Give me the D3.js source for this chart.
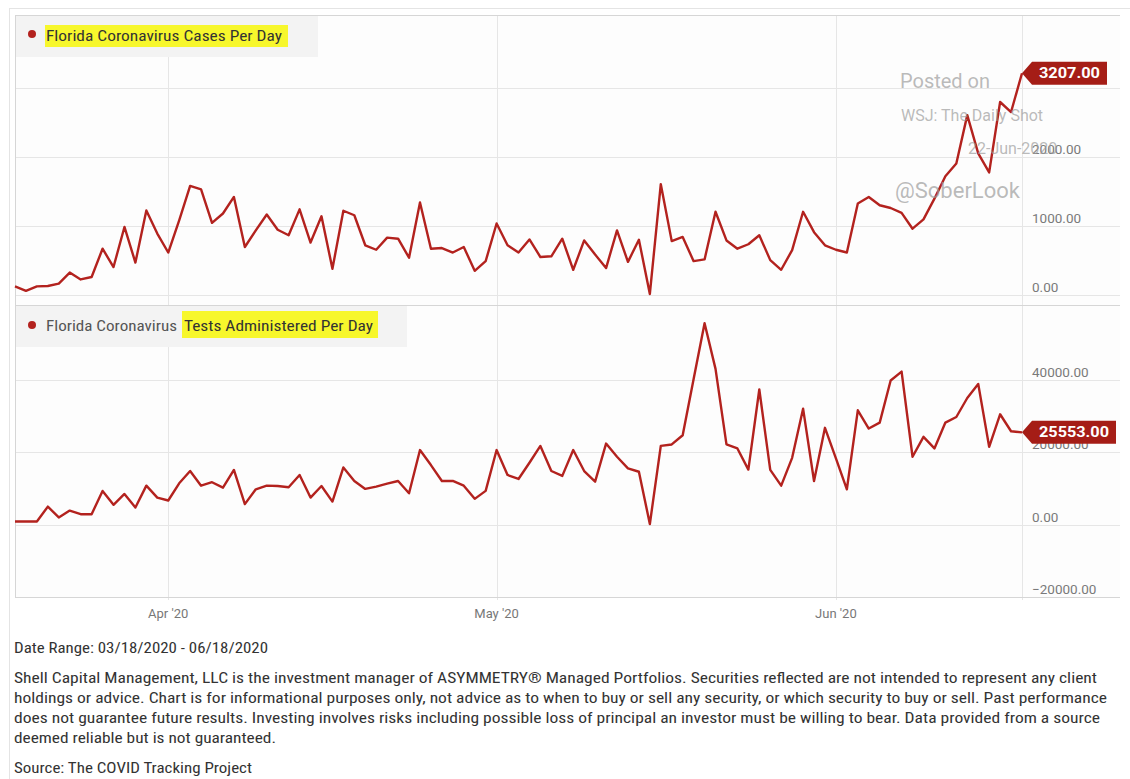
<!DOCTYPE html>
<html>
<head>
<meta charset="utf-8">
<script src="https://cdn.jsdelivr.net/npm/d3@7"></script>
<style>
  html, body { margin: 0; padding: 0; background: #fff; }
  svg { display: block; }
  text { font-family: Roboto, "Liberation Sans", sans-serif; }
  .narrow { font-family: "Liberation Sans Narrow", "Roboto Condensed", Roboto, sans-serif; }
</style>
</head>
<body>
<svg id="chart" width="1130" height="779"></svg>
<script>
// date range of the chart (one value per day)
const startDay = new Date(2020, 2, 18);
const endDay = new Date(2020, 5, 18);

// Florida new cases per day
const casesPerDay = [
  120, 55, 120, 125, 160, 320, 220, 255, 665, 400, 980, 465, 1220, 885, 610, 1075, 1575, 1525, 1040, 1175,
  1415, 690, 930, 1160, 940, 860, 1235, 755, 1135, 375, 1215, 1150, 715, 650,
  825, 810, 535, 1335, 665, 675, 610, 690, 345, 485, 1030, 715, 610, 800, 545, 555, 810, 360, 785, 580,
  385, 930, 475, 795, 10, 1600, 775, 835, 485, 510, 1200, 785, 665, 730,
  860, 500, 360, 645, 1200, 905, 715, 650, 610, 1320, 1415, 1295, 1255, 1185, 955, 1090, 1390, 1715,
  1900, 2600, 2045, 1770, 2790, 2645, 3207
];

// Florida tests administered per day
const testsPerDay = [
  900, 900, 900, 5000, 2000, 3900, 2900, 2900, 9350, 5500, 8500, 4750, 10800, 7500, 6700, 11450, 14850,
  10800, 11750, 10250, 15150, 5700, 9800, 10800, 10700, 10350, 13750, 7500, 10700, 6400, 15850, 12100,
  9900, 10550,
  11350, 12100, 8700, 20650, 16500, 12100, 12100, 10800, 7150, 9350, 20650, 13750, 12650, 17150, 21800,
  14850, 13500, 20650, 14850, 11900, 22450, 18800, 15600, 14650, 200, 21800, 22200, 24750, 40300, 55750,
  43100, 22200, 21100, 15250,
  37400, 15150, 10800, 18500, 32100, 12100, 26800, 18350, 9800, 31650, 26600, 28250, 39900, 42350, 18800,
  24300, 21100, 28250, 29800, 35050, 38950, 21550, 30550, 25850, 25553
];

const caseTicks = [0, 1000, 2000, 3000];
const testTicks = [-20000, 0, 20000, 40000];
const monthTicks = [new Date(2020, 3, 1), new Date(2020, 4, 1), new Date(2020, 5, 1)];

const footerLines = [
  { text: "Date Range: 03/18/2020 - 06/18/2020", y: 653, w: 254 },
  { text: "Shell Capital Management, LLC is the investment manager of ASYMMETRY\u00ae Managed Portfolios. Securities reflected are not intended to represent any client", y: 683, w: 1083 },
  { text: "holdings or advice. Chart is for informational purposes only, not advice as to when to buy or sell any security, or which security to buy or sell. Past performance", y: 703, w: 1093 },
  { text: "does not guarantee future results. Investing involves risks including possible loss of principal an investor must be willing to bear. Data provided from a source", y: 723, w: 1086 },
  { text: "deemed reliable but is not guaranteed.", y: 743, w: 262 },
  { text: "Source: The COVID Tracking Project", y: 773, w: 238 }
];

const LINE_COLOR = "#b3221e";
const BADGE_COLOR = "#a51d16";
const GRID_COLOR = "#e6e6e6";
const FRAME_COLOR = "#d6d6d6";

const svg = d3.select("#chart");
svg.append("rect").attr("width", 1130).attr("height", 779).attr("fill", "#fff");

const days = d3.timeDay.range(startDay, d3.timeDay.offset(endDay, 1));

const x = d3.scaleTime().domain([startDay, endDay]).range([15, 1022]);
const yCases = d3.scaleLinear().domain([-150, 4050]).range([305, 15]);
const yTests = d3.scaleLinear().domain([-20000, 60500]).range([597, 306]);

const fmt = d3.format(".2f");

// outer frame of the screenshot
svg.append("line").attr("x1", 9.5).attr("x2", 9.5).attr("y1", 8).attr("y2", 779)
  .attr("stroke", "#e4e4e4");
svg.append("line").attr("x1", 9.5).attr("x2", 1130).attr("y1", 8.5).attr("y2", 8.5)
  .attr("stroke", "#e4e4e4");

// plot background
svg.append("rect").attr("x", 15).attr("y", 15).attr("width", 1105).attr("height", 582)
  .attr("fill", "#fdfdfd");

// vertical month gridlines + right edge of plot
svg.append("g").selectAll("line")
  .data(monthTicks)
  .join("line")
  .attr("x1", d => Math.round(x(d)) + 0.5)
  .attr("x2", d => Math.round(x(d)) + 0.5)
  .attr("y1", 15).attr("y2", 600)
  .attr("stroke", GRID_COLOR);
svg.append("line").attr("x1", 1022.5).attr("x2", 1022.5).attr("y1", 15).attr("y2", 600)
  .attr("stroke", GRID_COLOR);

function drawPanel(yScale, ticks, hideLabel) {
  const g = svg.append("g");
  g.selectAll("line.grid")
    .data(ticks.filter(t => yScale(t) > yScale.range()[1] && yScale(t) < yScale.range()[0] - 1))
    .join("line")
    .attr("class", "grid")
    .attr("x1", 15).attr("x2", 1120)
    .attr("y1", d => Math.round(yScale(d)) + 0.5)
    .attr("y2", d => Math.round(yScale(d)) + 0.5)
    .attr("stroke", GRID_COLOR);
  g.selectAll("text.tick")
    .data(ticks.filter(t => !hideLabel.includes(t)))
    .join("text")
    .attr("class", "tick")
    .attr("x", 1032)
    .attr("y", d => yScale(d) - 3)
    .attr("font-size", 13.5)
    .attr("fill", "#7a7a7a")
    .text(d => fmt(d));
  return g;
}

drawPanel(yCases, caseTicks, [3000]);
drawPanel(yTests, testTicks, []);

// panel frame lines
[15.5, 305.5, 597.5].forEach(yy => {
  svg.append("line").attr("x1", 15).attr("x2", 1120).attr("y1", yy).attr("y2", yy)
    .attr("stroke", FRAME_COLOR);
});
svg.append("line").attr("x1", 15.5).attr("x2", 15.5).attr("y1", 15).attr("y2", 598)
  .attr("stroke", FRAME_COLOR);

// x axis labels
svg.append("g").selectAll("text")
  .data(monthTicks)
  .join("text")
  .attr("x", d => x(d))
  .attr("y", 618)
  .attr("text-anchor", "middle")
  .attr("font-size", 13)
  .attr("fill", "#777")
  .text(d => d3.timeFormat("%b '%y")(d));

// legends
function drawLegend(y0, h, w, dotY, parts) {
  const g = svg.append("g");
  g.append("rect").attr("x", 16).attr("y", y0).attr("width", w).attr("height", h)
    .attr("fill", "#f3f3f3");
  g.append("circle").attr("cx", 32).attr("cy", dotY).attr("r", 4).attr("fill", LINE_COLOR);
  parts.forEach(p => {
    if (p.hl) {
      g.append("rect").attr("x", p.hl[0]).attr("y", p.hl[1]).attr("width", p.hl[2])
        .attr("height", p.hl[3]).attr("fill", "#f7f72c");
    }
    g.append("text").attr("class", "narrow")
      .attr("x", p.x).attr("y", p.y)
      .attr("font-size", 15)
      .attr("fill", p.color)
      .attr("textLength", p.w).attr("lengthAdjust", "spacingAndGlyphs")
      .text(p.text);
  });
}

drawLegend(16, 41, 302, 34, [
  { text: "Florida Coronavirus Cases Per Day", x: 46, y: 41, w: 236, color: "#333",
    hl: [45, 25, 243, 22] }
]);
drawLegend(306, 41, 391, 325, [
  { text: "Florida Coronavirus", x: 46, y: 331, w: 131, color: "#555" },
  { text: "Tests Administered Per Day", x: 184, y: 331, w: 189, color: "#333",
    hl: [182, 311, 196, 27] }
]);

// series lines
const lineCases = d3.line().x((d, i) => x(days[i])).y(d => yCases(d));
const lineTests = d3.line().x((d, i) => x(days[i])).y(d => yTests(d));

svg.append("path").datum(casesPerDay)
  .attr("d", lineCases)
  .attr("fill", "none").attr("stroke", LINE_COLOR)
  .attr("stroke-width", 2.4).attr("stroke-linejoin", "round");
svg.append("path").datum(testsPerDay)
  .attr("d", lineTests)
  .attr("fill", "none").attr("stroke", LINE_COLOR)
  .attr("stroke-width", 2.4).attr("stroke-linejoin", "round");

// watermark
const wm = svg.append("g").attr("fill", "#9c9c9c").attr("fill-opacity", 0.7)
  .style("font-family", "'Liberation Sans', Arial, sans-serif");
wm.append("text").attr("x", 900).attr("y", 88).attr("font-size", 20).text("Posted on");
wm.append("text").attr("x", 901).attr("y", 121).attr("font-size", 16).text("WSJ: The Daily Shot");
wm.append("text").attr("x", 968).attr("y", 154).attr("font-size", 16).text("22-Jun-2020");
wm.append("text").attr("x", 895).attr("y", 198).attr("font-size", 22).text("@SoberLook");

// last value badges
function drawBadge(value, yScale, boxW, textW) {
  const tipX = x(endDay);
  const tipY = yScale(value);
  const h = 23, notch = 10;
  const g = svg.append("g");
  g.append("path")
    .attr("d", `M${tipX},${tipY} L${tipX + notch},${tipY - h / 2} L${tipX + notch + boxW},${tipY - h / 2}` +
      ` L${tipX + notch + boxW},${tipY + h / 2} L${tipX + notch},${tipY + h / 2} Z`)
    .attr("fill", BADGE_COLOR);
  g.append("text")
    .attr("x", tipX + notch + boxW / 2)
    .attr("y", tipY + 5)
    .attr("text-anchor", "middle")
    .attr("font-size", 14)
    .attr("font-weight", "bold")
    .attr("fill", "#fff")
    .attr("textLength", textW).attr("lengthAdjust", "spacingAndGlyphs")
    .text(fmt(value));
}

drawBadge(casesPerDay[casesPerDay.length - 1], yCases, 75, 61);
drawBadge(testsPerDay[testsPerDay.length - 1], yTests, 84, 70);

// footer notes
svg.append("g").selectAll("text")
  .data(footerLines)
  .join("text")
  .attr("class", "narrow")
  .attr("x", 14)
  .attr("y", d => d.y)
  .attr("font-size", 14)
  .attr("fill", "#333")
  .attr("textLength", d => d.w)
  .attr("lengthAdjust", "spacingAndGlyphs")
  .text(d => d.text);
</script>
</body>
</html>
